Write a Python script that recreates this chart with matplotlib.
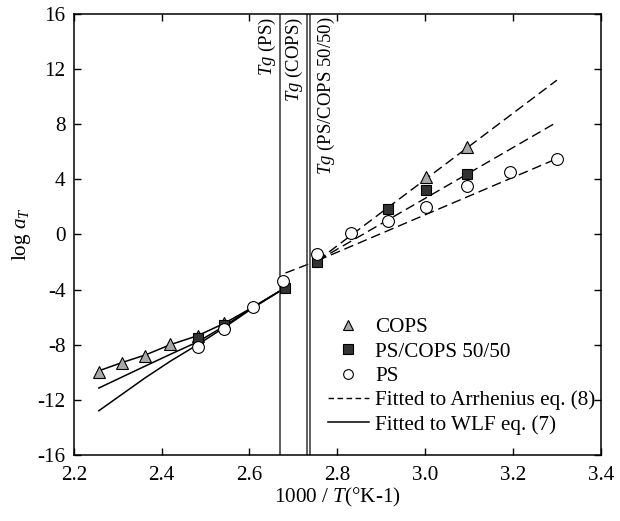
import numpy as np
import matplotlib
matplotlib.use("Agg")
import matplotlib.pyplot as plt

plt.rcParams["font.family"] = ["Liberation Serif", "DejaVu Serif"]
plt.rcParams["mathtext.fontset"] = "custom"
plt.rcParams["mathtext.rm"] = "Liberation Serif"
plt.rcParams["mathtext.it"] = "Liberation Serif:italic"
plt.rcParams["axes.unicode_minus"] = False

FS = 15.2

# shift factors vs 1000/T
cops_x = [2.257, 2.310, 2.363, 2.420, 2.482, 2.543, 3.001, 3.096]
cops_y = [-10.0, -9.3, -8.8, -7.95, -7.35, -6.43, 4.18, 6.35]
blend_x = [2.482, 2.543, 2.680, 2.753, 2.915, 3.001, 3.096]
blend_y = [-7.55, -6.6, -3.9, -2.0, 1.84, 3.25, 4.37]
ps_x = [2.482, 2.543, 2.607, 2.677, 2.753, 2.832, 2.915, 3.001, 3.096, 3.194, 3.301]
ps_y = [-8.2, -6.86, -5.3, -3.4, -1.4, 0.07, 0.99, 1.96, 3.5, 4.54, 5.51]

# WLF fits above Tg
wlf_x = [2.257, 2.310, 2.363, 2.420, 2.482, 2.543, 2.607, 2.680]
wlf_cops = [-9.9, -9.3, -8.75, -8.0, -7.35, -6.45, -5.3, -3.9]
wlf_blend = [-11.15, -10.35, -9.55, -8.7, -7.8, -6.65, -5.3, -3.9]
wlf_ps = [-12.8, -11.6, -10.4, -9.2, -8.0, -6.75, -5.35, -3.9]

# Arrhenius fits below Tg
arr_x = [2.755, 3.300]
arr_cops = [-1.9, 11.2]
arr_blend = [-1.9, 8.15]
arr_ps = [-1.9, 5.5]
bridge_x = [2.682, 2.755]
bridge_y = [-2.8, -1.9]

tg_x = [2.670, 2.731, 2.739]
tg_labels = ["$Tg$ (PS)", "$Tg$ (COPS)", "$Tg$ (PS/COPS 50/50)"]

fig = plt.figure(figsize=(6.2, 5.21), dpi=100)
ax = fig.add_axes([0.119, 0.127, 0.850, 0.846])

dash = (0, (7, 3.5))
for yv in (arr_cops, arr_blend, arr_ps):
    ax.plot(arr_x, yv, color="black", lw=1.0, ls=dash)
ax.plot(bridge_x, bridge_y, color="black", lw=1.0, ls=dash)
for yv in (wlf_cops, wlf_blend, wlf_ps):
    ax.plot(wlf_x, yv, color="black", lw=1.1)

for xv in tg_x:
    ax.axvline(xv, color="#333333", lw=1.1)
ax.text(tg_x[0] - 0.004, 15.8, tg_labels[0], rotation=90, ha="right", va="top", fontsize=13.5)
ax.text(tg_x[1] - 0.004, 15.8, tg_labels[1], rotation=90, ha="right", va="top", fontsize=13.5)
ax.text(tg_x[2] + 0.012, 15.8, tg_labels[2], rotation=90, ha="left", va="top", fontsize=13.5)

ax.plot(cops_x, cops_y, ls="none", marker="^", ms=8.2, mfc="#a8a8a8", mec="black", mew=0.8)
ax.plot(blend_x, blend_y, ls="none", marker="s", ms=7.3, mfc="#333333", mec="black", mew=0.8)
ax.plot(ps_x, ps_y, ls="none", marker="o", ms=8.5, mfc="white", mec="black", mew=0.8)

h_c, = ax.plot([], [], ls="none", marker="^", ms=7, mfc="#a8a8a8", mec="black", mew=0.8)
h_b, = ax.plot([], [], ls="none", marker="s", ms=6.5, mfc="#333333", mec="black", mew=0.8)
h_p, = ax.plot([], [], ls="none", marker="o", ms=7, mfc="white", mec="black", mew=0.8)
h_a, = ax.plot([], [], color="black", lw=1.0, ls=(0, (4, 2.5)))
h_w, = ax.plot([], [], color="black", lw=1.1)
ax.legend([h_c, h_b, h_p, h_a, h_w],
          ["COPS", "PS/COPS 50/50", "PS", "Fitted to Arrhenius eq. (8)", "Fitted to WLF eq. (7)"],
          loc="upper left", bbox_to_anchor=(0.466, 0.331), borderaxespad=0, frameon=False,
          fontsize=FS, labelspacing=0.22, handletextpad=0.3, handlelength=1.95, numpoints=1)

ax.set_xlim(2.2, 3.4)
ax.set_ylim(-16, 16)
ax.set_xticks(np.arange(2.2, 3.41, 0.2))
ax.set_xticklabels(["2.2", "2.4", "2.6", "2.8", "3.0", "3.2", "3.4"])
ax.set_yticks(np.arange(-16, 17, 4))
ax.tick_params(direction="in", length=5, width=1, top=True, right=True, labelsize=FS)
ax.tick_params(axis="x", pad=8)
ax.tick_params(axis="y", pad=6)
for s in ax.spines.values():
    s.set_linewidth(1.1)
ax.set_xlabel("1000 / $T$(°K-1)", fontsize=FS, labelpad=1)
ax.set_ylabel("log $a_T$", fontsize=FS, labelpad=3)

fig.savefig("out.png", dpi=100)
